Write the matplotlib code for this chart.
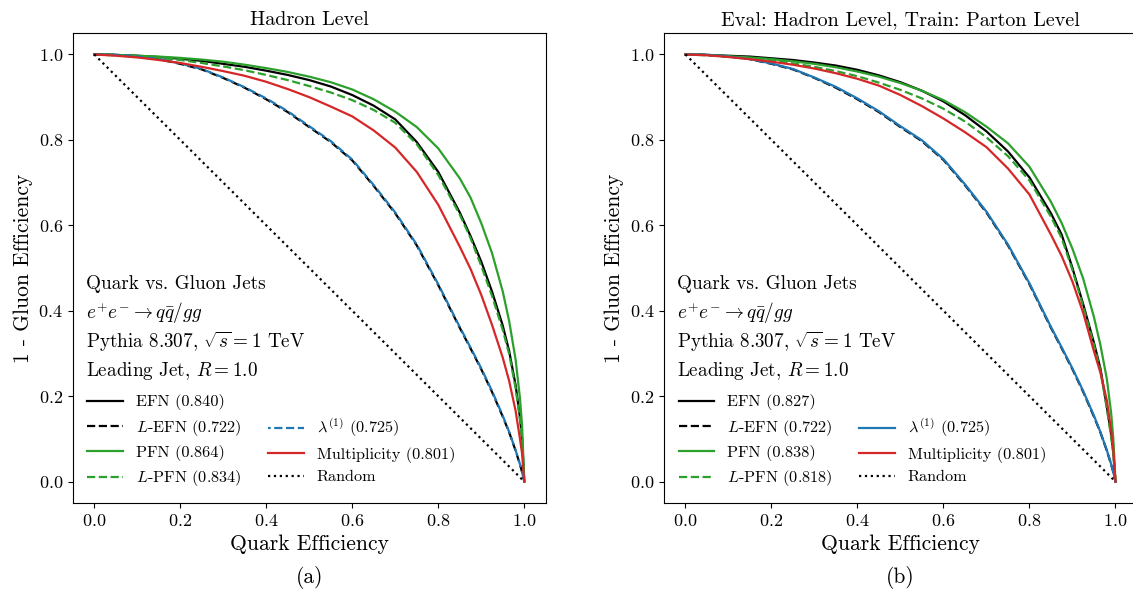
import numpy as np
import matplotlib
matplotlib.use("Agg")
import matplotlib.pyplot as plt
from matplotlib.lines import Line2D

plt.rcParams['font.family'] = 'serif'
plt.rcParams['font.serif'] = ['cmr10', 'DejaVu Serif']
plt.rcParams['mathtext.fontset'] = 'cm'
plt.rcParams['axes.formatter.use_mathtext'] = True
plt.rcParams['axes.unicode_minus'] = False

# quark efficiency grid
eff_q = [0.0, 0.05, 0.1, 0.15, 0.2, 0.25, 0.3, 0.35, 0.4, 0.45, 0.5, 0.55, 0.6, 0.65,
         0.7, 0.75, 0.8, 0.85, 0.875, 0.9, 0.925, 0.95, 0.965, 0.98, 0.99, 0.995, 1.0]

# (a) hadron level, 1 - gluon efficiency
efn_a = [1.0, 0.999, 0.997, 0.994, 0.990, 0.985, 0.978, 0.971, 0.962, 0.952, 0.940, 0.925, 0.905, 0.880,
         0.848, 0.795, 0.725, 0.630, 0.575, 0.515, 0.445, 0.365, 0.305, 0.225, 0.150, 0.100, 0.0]
lefn_a = [1.0, 0.999, 0.995, 0.989, 0.978, 0.965, 0.945, 0.922, 0.895, 0.865, 0.830, 0.795, 0.752, 0.692,
          0.628, 0.553, 0.460, 0.360, 0.312, 0.263, 0.210, 0.152, 0.115, 0.072, 0.040, 0.022, 0.0]
pfn_a = [1.0, 0.999, 0.997, 0.995, 0.992, 0.988, 0.983, 0.976, 0.968, 0.959, 0.948, 0.935, 0.918, 0.895,
         0.866, 0.830, 0.780, 0.710, 0.665, 0.605, 0.535, 0.445, 0.375, 0.285, 0.195, 0.130, 0.0]
lpfn_a = [1.0, 0.998, 0.996, 0.992, 0.987, 0.980, 0.972, 0.963, 0.952, 0.940, 0.926, 0.911, 0.893, 0.870,
          0.840, 0.790, 0.718, 0.625, 0.570, 0.505, 0.435, 0.355, 0.298, 0.218, 0.145, 0.095, 0.0]
lam_a = [1.0, 0.999, 0.995, 0.989, 0.979, 0.966, 0.946, 0.923, 0.897, 0.867, 0.832, 0.797, 0.754, 0.694,
         0.630, 0.555, 0.462, 0.362, 0.314, 0.265, 0.212, 0.154, 0.116, 0.073, 0.041, 0.022, 0.0]
mult_a = [1.0, 0.997, 0.993, 0.987, 0.980, 0.971, 0.961, 0.950, 0.936, 0.919, 0.900, 0.878, 0.855, 0.822,
          0.782, 0.725, 0.648, 0.550, 0.498, 0.437, 0.367, 0.290, 0.235, 0.165, 0.100, 0.065, 0.0]

# (b) eval hadron level, train parton level
efn_b = [1.0, 0.999, 0.997, 0.995, 0.991, 0.987, 0.981, 0.974, 0.964, 0.951, 0.935, 0.915, 0.890, 0.858,
         0.820, 0.773, 0.712, 0.628, 0.578, 0.500, 0.415, 0.325, 0.265, 0.175, 0.110, 0.070, 0.0]
lefn_b = [1.0, 0.999, 0.995, 0.989, 0.978, 0.965, 0.945, 0.922, 0.895, 0.865, 0.830, 0.797, 0.753, 0.694,
          0.630, 0.553, 0.462, 0.360, 0.312, 0.263, 0.210, 0.152, 0.115, 0.072, 0.040, 0.022, 0.0]
pfn_b = [1.0, 0.999, 0.996, 0.993, 0.989, 0.984, 0.978, 0.970, 0.960, 0.948, 0.933, 0.915, 0.893, 0.865,
         0.831, 0.792, 0.737, 0.655, 0.605, 0.545, 0.475, 0.385, 0.320, 0.240, 0.160, 0.100, 0.0]
lpfn_b = [1.0, 0.998, 0.995, 0.991, 0.986, 0.979, 0.971, 0.961, 0.949, 0.934, 0.917, 0.897, 0.873, 0.843,
          0.806, 0.762, 0.705, 0.620, 0.570, 0.495, 0.410, 0.320, 0.260, 0.170, 0.105, 0.065, 0.0]
lam_b = [1.0, 0.999, 0.995, 0.989, 0.979, 0.966, 0.946, 0.924, 0.897, 0.867, 0.832, 0.799, 0.755, 0.696,
         0.632, 0.555, 0.464, 0.362, 0.314, 0.265, 0.212, 0.154, 0.116, 0.073, 0.041, 0.022, 0.0]
mult_b = [1.0, 0.998, 0.994, 0.989, 0.983, 0.976, 0.967, 0.956, 0.943, 0.927, 0.905, 0.879, 0.850, 0.818,
          0.783, 0.733, 0.672, 0.578, 0.528, 0.468, 0.395, 0.305, 0.255, 0.190, 0.120, 0.075, 0.0]

rand_x = [0.0, 1.0]
rand_y = [1.0, 0.0]

auc_a = {"EFN": "0.840", "LEFN": "0.722", "PFN": "0.864", "LPFN": "0.834", "lam": "0.725", "mult": "0.801"}
auc_b = {"EFN": "0.827", "LEFN": "0.722", "PFN": "0.838", "LPFN": "0.818", "lam": "0.725", "mult": "0.801"}

titles = ["Hadron Level", "Eval: Hadron Level, Train: Parton Level"]
captions = ["(a)", "(b)"]
info_lines = ["Quark vs. Gluon Jets",
              r"$e^{+}e^{-} \rightarrow q\bar{q}/gg$",
              r"Pythia 8.307, $\sqrt{s} = 1$ TeV",
              r"Leading Jet, $R = 1.0$"]

green = "#2ca02c"
red = "#d62728"
blue = "#1f77b4"

fig = plt.figure(figsize=(11.33, 5.91), dpi=100)
ax_a = fig.add_axes([0.0642, 0.149, 0.4175, 0.795])
ax_b = fig.add_axes([0.586, 0.149, 0.4175, 0.795])


def draw_panel(ax, efn, lefn, pfn, lpfn, lam, mult, auc, lam_style, title, caption):
    lw = 1.6
    ax.plot(eff_q, efn, color="black", lw=lw, label="EFN (%s)" % auc["EFN"])
    ax.plot(eff_q, lefn, color="black", lw=lw, ls="--", label=r"$L$-EFN (%s)" % auc["LEFN"])
    ax.plot(eff_q, pfn, color=green, lw=lw, label="PFN (%s)" % auc["PFN"])
    ax.plot(eff_q, lpfn, color=green, lw=lw, ls="--", label=r"$L$-PFN (%s)" % auc["LPFN"])
    ax.plot(eff_q, lam, color=blue, lw=lw, ls=lam_style, label=r"$\lambda^{(1)}$ (%s)" % auc["lam"])
    ax.plot(eff_q, mult, color=red, lw=lw, label="Multiplicity (%s)" % auc["mult"])
    ax.plot(rand_x, rand_y, color="black", lw=lw, ls=":", label="Random")

    ax.set_xlim(-0.05, 1.05)
    ax.set_ylim(-0.05, 1.05)
    ax.set_xticks(np.arange(0, 1.01, 0.2))
    ax.set_yticks(np.arange(0, 1.01, 0.2))
    ax.tick_params(labelsize=13)
    ax.set_xlabel("Quark Efficiency", fontsize=15.5)
    ax.set_ylabel("1 - Gluon Efficiency", fontsize=15.5)
    ax.set_title(title, fontsize=14.5)

    ys = [0.466, 0.404, 0.343, 0.281]
    for line, y in zip(info_lines, ys):
        ax.text(0.028, y, line, transform=ax.transAxes, fontsize=13.8, va="center", ha="left")

    handles, labels = ax.get_legend_handles_labels()
    blank = Line2D([], [], linestyle="none")
    order_h = handles[:4] + [blank] + handles[4:]
    order_l = labels[:4] + [""] + labels[4:]
    ax.legend(order_h, order_l, ncol=2, loc="lower left", bbox_to_anchor=(0.0, 0.0),
              frameon=False, fontsize=11.7, handlelength=2.2, columnspacing=1.6,
              labelspacing=0.45)

    box = ax.get_position()
    fig.text(box.x0 + 0.4175 / 2, 0.022, caption, ha="center", va="center", fontsize=15.5)


draw_panel(ax_a, efn_a, lefn_a, pfn_a, lpfn_a, lam_a, mult_a, auc_a, (2.5, (3.7, 1.6)),
           titles[0], captions[0])
draw_panel(ax_b, efn_b, lefn_b, pfn_b, lpfn_b, lam_b, mult_b, auc_b, "-",
           titles[1], captions[1])

fig.savefig("out.png", dpi=100)
